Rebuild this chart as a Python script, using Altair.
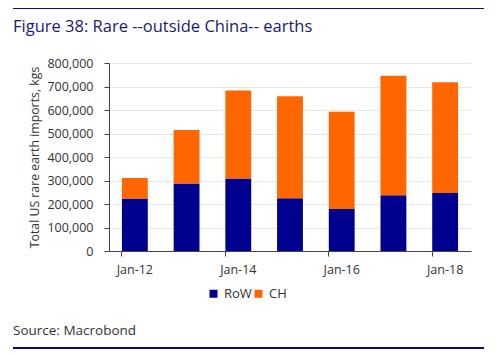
import altair as alt
import pandas as pd

periods = ["Jan-12", "Jan-13", "Jan-14", "Jan-15", "Jan-16", "Jan-17", "Jan-18"]
row_vals = [223000, 287000, 308000, 224000, 179000, 237000, 247000]
ch_vals = [88000, 228000, 375000, 434000, 414000, 509000, 471000]
series = ["RoW", "CH"]
colors = ["#00008f", "#ff6600"]
label_periods = ["Jan-12", "Jan-14", "Jan-16", "Jan-18"]

rows = []
for p, r, c in zip(periods, row_vals, ch_vals):
    rows.append({"period": p, "series": "RoW", "value": r, "ord": 0})
    rows.append({"period": p, "series": "CH", "value": c, "ord": 1})
df = pd.DataFrame(rows)
one = pd.DataFrame({"k": [0]})

FONT = "Open Sans"
W, H = 362, 188

bars = alt.Chart(df).mark_bar().encode(
    x=alt.X("period:N", sort=periods,
            scale=alt.Scale(paddingInner=0.5, paddingOuter=0.25),
            axis=alt.Axis(title=None, values=label_periods, bandPosition=0,
                          labelAngle=0, tickSize=5,
                          labelPadding=7, domainColor="#444444", tickColor="#444444",
                          labelColor="#333333", labelFontSize=12.5, labelFont=FONT,
                          grid=False)),
    y=alt.Y("value:Q", stack="zero",
            scale=alt.Scale(domain=[0, 800000]),
            axis=alt.Axis(title="Total US rare earth imports, kgs", format=",d",
                          values=list(range(0, 800001, 100000)),
                          tickSize=5, labelPadding=11, titlePadding=5,
                          domainColor="#444444", tickColor="#444444",
                          gridColor="#e8e8e8", labelColor="#333333",
                          titleColor="#333333", labelFontSize=12.5,
                          titleFontSize=12.3, titleFontWeight="normal",
                          labelFont=FONT, titleFont=FONT)),
    color=alt.Color("series:N", scale=alt.Scale(domain=series, range=colors),
                    legend=alt.Legend(title=None, orient="none", direction="horizontal",
                                      legendX=98, legendY=224, symbolType="square",
                                      symbolSize=64, symbolStrokeWidth=0,
                                      labelFontSize=13, labelFont=FONT,
                                      labelColor="#333333", labelOffset=4,
                                      columnPadding=0, padding=0)),
    order=alt.Order("ord:Q"),
)

top_rule = alt.Chart(one).mark_rule(color="#0a0a80", strokeWidth=2).encode(
    x=alt.value(-96), x2=alt.value(375), y=alt.value(-55))
bottom_rule = alt.Chart(one).mark_rule(color="#0a0a80", strokeWidth=2).encode(
    x=alt.value(-96), x2=alt.value(375), y=alt.value(285))
title_txt = alt.Chart(one).mark_text(
    align="left", baseline="alphabetic", fontSize=16.5, font=FONT, color="#1a1a70",
    fontWeight="normal"
).encode(x=alt.value(-96), y=alt.value(-31), text=alt.value("Figure 38: Rare --outside China-- earths"))
source_txt = alt.Chart(one).mark_text(
    align="left", baseline="alphabetic", fontSize=13.5, font=FONT, color="#333333",
    fontWeight="normal"
).encode(x=alt.value(-96), y=alt.value(272), text=alt.value("Source: Macrobond"))

chart = alt.layer(bars, top_rule, bottom_rule, title_txt, source_txt).properties(
    width=W, height=H,
    autosize=alt.AutoSizeParams(type="none"),
    padding={"left": 101, "top": 55, "right": 21, "bottom": 99},
).configure_view(stroke=None)

chart.save("out.html", embed_options={"renderer": "svg", "actions": False})
